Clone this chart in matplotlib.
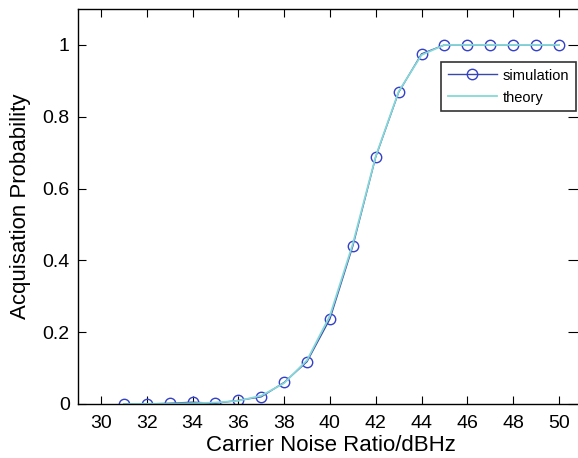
import matplotlib
matplotlib.use("Agg")
import matplotlib.pyplot as plt

plt.rcParams['font.family'] = ['Liberation Sans', 'DejaVu Sans']

cnr = [31, 32, 33, 34, 35, 36, 37, 38, 39, 40, 41, 42, 43, 44, 45, 46, 47, 48, 49, 50]
simulation = [0.0, 0.0, 0.002, 0.005, 0.002, 0.01, 0.02, 0.06, 0.118, 0.237, 0.44, 0.688, 0.868, 0.975, 1.0, 1.0, 1.0, 1.0, 1.0, 1.0]
theory = [0.0, 0.0005, 0.001, 0.002, 0.004, 0.009, 0.023, 0.058, 0.122, 0.246, 0.446, 0.690, 0.870, 0.972, 1.0, 1.0, 1.0, 1.0, 1.0, 1.0]
xticks = [30, 32, 34, 36, 38, 40, 42, 44, 46, 48, 50]
yticks = [0, 0.2, 0.4, 0.6, 0.8, 1]
yticklabels = ['0', '0.2', '0.4', '0.6', '0.8', '1']

W, H = 578, 458
fig = plt.figure(figsize=(W / 100, H / 100), dpi=100)
left, right, top, bottom = 78, 583, 9, 404
ax = fig.add_axes([left / W, 1 - bottom / H, (right - left) / W, (bottom - top) / H])

ax.plot(cnr, simulation, color='#3a48a8', lw=1.0, marker='o', ms=7.5, mfc='none',
        mec='#3340c8', mew=1.0, label='simulation')
ax.plot(cnr, theory, color='#86d8d8', lw=1.3, label='theory')

ax.set_xlim(29, 51.05)
ax.set_ylim(0, 1.1)
ax.set_xticks(xticks)
ax.set_yticks(yticks)
ax.set_yticklabels(yticklabels)
ax.tick_params(direction='in', top=True, right=True, labelsize=14, length=6, width=0.8, pad=6)
ax.tick_params(axis='x', pad=8)
for s in ax.spines.values():
    s.set_linewidth(1.0)
ax.spines['right'].set_visible(False)
for t in ax.yaxis.get_major_ticks():
    t.tick2line.set_markersize(11)

ax.set_xlabel('Carrier Noise Ratio/dBHz', fontsize=16, labelpad=2)
ax.set_ylabel('Acquisation Probability', fontsize=16, labelpad=8)

leg = ax.legend(loc='upper right', bbox_to_anchor=((576 - left) / (right - left), (bottom - 62) / (bottom - top)),
                borderaxespad=0, fontsize=10.5, frameon=True, fancybox=False, edgecolor='black',
                handlelength=3.4, borderpad=0.45, labelspacing=0.55, handletextpad=0.4)
leg.get_frame().set_linewidth(1.2)

fig.savefig('out.png', dpi=100)
